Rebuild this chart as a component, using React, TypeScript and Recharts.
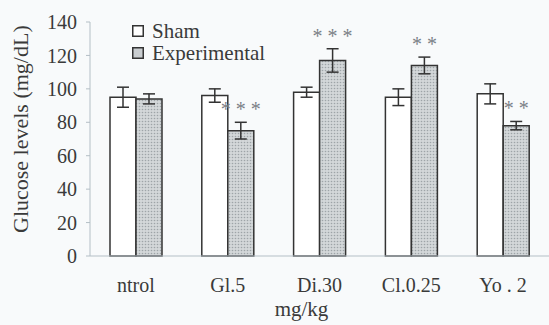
import React from "react";
import { BarChart, Bar, XAxis, YAxis, ErrorBar, LabelList } from "recharts";

const categories = ["ntrol", "Gl.5", "Di.30", "Cl.0.25", "Yo . 2"];
const shamValues = [95, 96, 98, 95, 97];
const shamErrors = [6, 4, 3, 5, 6];
const expValues = [94, 75, 117, 114, 78];
const expErrors = [3, 5, 7, 5, 2.5];
const significance = ["", "***", "***", "**", "**"];
const yTicks = [0, 20, 40, 60, 80, 100, 120, 140];
const seriesNames = ["Sham", "Experimental"];

const data = categories.map((c, i) => ({
  name: c,
  sham: shamValues[i],
  shamErr: shamErrors[i],
  exp: expValues[i],
  expErr: expErrors[i],
  sig: significance[i],
}));

const FONT = "'Liberation Serif', 'Times New Roman', serif";
const TEXT = "#3a3a3a";
const AXIS = "#b4bfc6";
const SHAM_FILL = "#ffffff";
const EXP_SWATCH = "#c9cdd0";

const Stars = (props: any) => {
  const { x, y, width, height, index } = props;
  const d = data[index];
  if (!d || !d.sig) return null;
  const pxPerUnit = height / d.exp;
  const top = y - d.expErr * pxPerUnit;
  return (
    <text x={x + width / 2} y={top - 6} textAnchor="middle" fontFamily={FONT} fontSize={20} fill="#7a8086">
      {d.sig.split("").join(" ")}
    </text>
  );
};

export default function App() {
  const swatches = [SHAM_FILL, EXP_SWATCH];
  return (
    <div style={{ position: "absolute", left: 0, top: 0, width: 549, height: 325, background: "#f8fafb" }}>
      <BarChart
        width={549}
        height={325}
        data={data}
        margin={{ top: 22, right: 0, bottom: 0, left: 0 }}
        barCategoryGap={20}
        barGap={0}
      >
        <defs>
          <pattern id="dots" width="3" height="3" patternUnits="userSpaceOnUse">
            <rect width="3" height="3" fill="#d3d7d9" />
            <circle cx="1.5" cy="1.5" r="0.8" fill="#9ea4a8" />
          </pattern>
        </defs>
        <XAxis
          dataKey="name"
          height={69}
          tickLine={false}
          axisLine={{ stroke: AXIS }}
          tickMargin={16}
          tick={{ fontFamily: FONT, fontSize: 20, fill: TEXT }}
          interval={0}
          label={{ value: "mg/kg", position: "insideBottom", offset: 9, dx: -18, fontFamily: FONT, fontSize: 21, fill: TEXT }}
        />
        <YAxis
          width={90}
          domain={[0, 140]}
          ticks={yTicks}
          interval={0}
          tickSize={4}
          tickMargin={9}
          axisLine={{ stroke: AXIS }}
          tickLine={{ stroke: AXIS }}
          tick={{ fontFamily: FONT, fontSize: 20, fill: TEXT }}
          label={{ value: "Glucose levels (mg/dL)", angle: -90, position: "insideLeft", offset: 20, dy: 94, fontFamily: FONT, fontSize: 22, fill: TEXT }}
        />
        <Bar dataKey="sham" name={seriesNames[0]} fill={SHAM_FILL} stroke="#333" strokeWidth={1.5} barSize={26} isAnimationActive={false}>
          <ErrorBar dataKey="shamErr" width={6} stroke="#333" strokeWidth={1.5} direction="y" />
        </Bar>
        <Bar dataKey="exp" name={seriesNames[1]} fill="url(#dots)" stroke="#333" strokeWidth={1.5} barSize={26} isAnimationActive={false}>
          <ErrorBar dataKey="expErr" width={6} stroke="#333" strokeWidth={1.5} direction="y" />
          <LabelList dataKey="exp" content={<Stars />} />
        </Bar>
      </BarChart>
      <div style={{ position: "absolute", left: 132, top: 20, fontFamily: FONT, fontSize: 21, color: TEXT, lineHeight: "22px" }}>
        {seriesNames.map((n, i) => (
          <div key={n} style={{ display: "flex", alignItems: "center" }}>
            <svg width={12} height={12} style={{ marginRight: 8 }}>
              <rect x={0.75} y={0.75} width={10.5} height={10.5} fill={swatches[i]} stroke="#333" strokeWidth={1.5} />
            </svg>
            <span>{n}</span>
          </div>
        ))}
      </div>
    </div>
  );
}
